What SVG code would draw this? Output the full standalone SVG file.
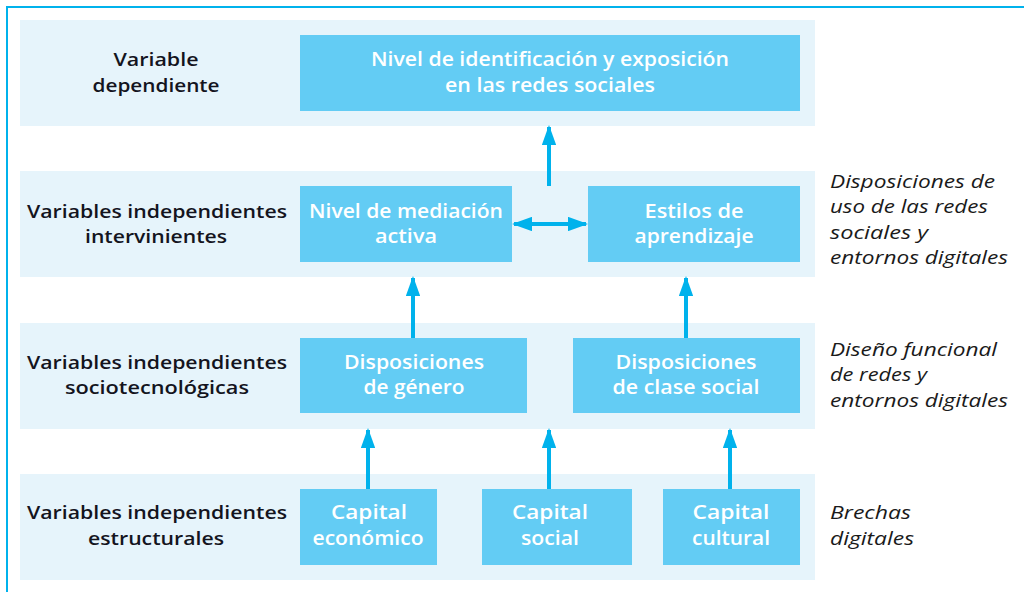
<svg xmlns="http://www.w3.org/2000/svg" width="1024" height="592" viewBox="0 0 1024 592">
<defs>
<style>
.band{fill:#e6f4fb}
.box{fill:#63ccf4}
.lbl{font-family:"Open Sans","Noto Sans","Liberation Sans",sans-serif;font-size:18.5px;font-weight:600;fill:#14141e;text-anchor:middle}
.bt{font-family:"Open Sans","Noto Sans","Liberation Sans",sans-serif;font-size:19px;font-weight:600;fill:#ffffff;text-anchor:middle}
.it{font-family:"Open Sans","Noto Sans","Liberation Sans",sans-serif;font-size:18.5px;font-style:italic;fill:#1a1a1a}
.ln{stroke:#00b2ec;stroke-width:4;fill:none}
</style>
<marker id="ah" viewBox="0 0 10 10" refX="9" refY="5" markerWidth="5" markerHeight="3.6" orient="auto-start-reverse" markerUnits="strokeWidth" preserveAspectRatio="none">
<path d="M0,0 L10,5 L0,10 Z" fill="#00b2ec"/>
</marker>
</defs>
<rect x="0" y="0" width="1024" height="592" fill="#ffffff"/>
<path d="M7,592 V7 H1024" stroke="#00b2ec" stroke-width="2" fill="none"/>
<g id="bands">
<rect class="band" x="20" y="20" width="795" height="106"/>
<rect class="band" x="20" y="171" width="795" height="106"/>
<rect class="band" x="20" y="323" width="795" height="106"/>
<rect class="band" x="20" y="474" width="795" height="106"/>
</g>
<g id="labels">
<text class="lbl" x="156" y="66" textLength="85" lengthAdjust="spacingAndGlyphs">Variable</text>
<text class="lbl" x="156" y="92" textLength="127" lengthAdjust="spacingAndGlyphs">dependiente</text>
<text class="lbl" x="157" y="218" textLength="260" lengthAdjust="spacingAndGlyphs">Variables independientes</text>
<text class="lbl" x="156" y="243" textLength="142" lengthAdjust="spacingAndGlyphs">intervinientes</text>
<text class="lbl" x="157" y="369" textLength="260" lengthAdjust="spacingAndGlyphs">Variables independientes</text>
<text class="lbl" x="157" y="394" textLength="184" lengthAdjust="spacingAndGlyphs">sociotecnológicas</text>
<text class="lbl" x="157" y="519" textLength="260" lengthAdjust="spacingAndGlyphs">Variables independientes</text>
<text class="lbl" x="156" y="545" textLength="136" lengthAdjust="spacingAndGlyphs">estructurales</text>
</g>
<g id="n-dep">
<rect class="box" x="300" y="35" width="500" height="76"/>
<text class="bt" x="550" y="66" textLength="358" lengthAdjust="spacingAndGlyphs">Nivel de identificación y exposición</text>
<text class="bt" x="550" y="92" textLength="210" lengthAdjust="spacingAndGlyphs">en las redes sociales</text>
</g>
<g id="n-med">
<rect class="box" x="300" y="186" width="212" height="76"/>
<text class="bt" x="406" y="218" textLength="194" lengthAdjust="spacingAndGlyphs">Nivel de mediación</text>
<text class="bt" x="406" y="243" textLength="62" lengthAdjust="spacingAndGlyphs">activa</text>
</g>
<g id="n-est">
<rect class="box" x="588" y="186" width="212" height="76"/>
<text class="bt" x="694" y="218" textLength="99" lengthAdjust="spacingAndGlyphs">Estilos de</text>
<text class="bt" x="694" y="243" textLength="119" lengthAdjust="spacingAndGlyphs">aprendizaje</text>
</g>
<g id="n-gen">
<rect class="box" x="300" y="338" width="227" height="75"/>
<text class="bt" x="414" y="369" textLength="140" lengthAdjust="spacingAndGlyphs">Disposiciones</text>
<text class="bt" x="414" y="394" textLength="101" lengthAdjust="spacingAndGlyphs">de género</text>
</g>
<g id="n-cla">
<rect class="box" x="573" y="338" width="227" height="75"/>
<text class="bt" x="686" y="369" textLength="141" lengthAdjust="spacingAndGlyphs">Disposiciones</text>
<text class="bt" x="686" y="394" textLength="147" lengthAdjust="spacingAndGlyphs">de clase social</text>
</g>
<g id="n-eco">
<rect class="box" x="300" y="489" width="137" height="76"/>
<text class="bt" x="369" y="519" textLength="76" lengthAdjust="spacingAndGlyphs">Capital</text>
<text class="bt" x="368" y="545" textLength="111" lengthAdjust="spacingAndGlyphs">económico</text>
</g>
<g id="n-soc">
<rect class="box" x="482" y="489" width="150" height="76"/>
<text class="bt" x="550" y="519" textLength="76" lengthAdjust="spacingAndGlyphs">Capital</text>
<text class="bt" x="550" y="545" textLength="58" lengthAdjust="spacingAndGlyphs">social</text>
</g>
<g id="n-cul">
<rect class="box" x="663" y="489" width="137" height="76"/>
<text class="bt" x="731" y="519" textLength="77" lengthAdjust="spacingAndGlyphs">Capital</text>
<text class="bt" x="731" y="545" textLength="78" lengthAdjust="spacingAndGlyphs">cultural</text>
</g>
<g id="notes">
<text class="it" x="830" y="188" textLength="165" lengthAdjust="spacingAndGlyphs">Disposiciones de</text>
<text class="it" x="830" y="213" textLength="158" lengthAdjust="spacingAndGlyphs">uso de las redes</text>
<text class="it" x="830" y="239" textLength="98" lengthAdjust="spacingAndGlyphs">sociales y</text>
<text class="it" x="830" y="264" textLength="178" lengthAdjust="spacingAndGlyphs">entornos digitales</text>
<text class="it" x="830" y="356" textLength="167" lengthAdjust="spacingAndGlyphs">Diseño funcional</text>
<text class="it" x="830" y="381" textLength="97" lengthAdjust="spacingAndGlyphs">de redes y</text>
<text class="it" x="830" y="407" textLength="178" lengthAdjust="spacingAndGlyphs">entornos digitales</text>
<text class="it" x="830" y="519" textLength="81" lengthAdjust="spacingAndGlyphs">Brechas</text>
<text class="it" x="830" y="545" textLength="84" lengthAdjust="spacingAndGlyphs">digitales</text>
</g>
<g id="connectors">
<line class="ln" x1="549" y1="186" x2="549" y2="127" marker-end="url(#ah)"/>
<line class="ln" x1="514" y1="224" x2="586" y2="224" marker-start="url(#ah)" marker-end="url(#ah)"/>
<line class="ln" x1="413" y1="338" x2="413" y2="278" marker-end="url(#ah)"/>
<line class="ln" x1="686" y1="338" x2="686" y2="278" marker-end="url(#ah)"/>
<line class="ln" x1="368" y1="489" x2="368" y2="430" marker-end="url(#ah)"/>
<line class="ln" x1="549" y1="489" x2="549" y2="430" marker-end="url(#ah)"/>
<line class="ln" x1="730" y1="489" x2="730" y2="430" marker-end="url(#ah)"/>
</g>
</svg>
